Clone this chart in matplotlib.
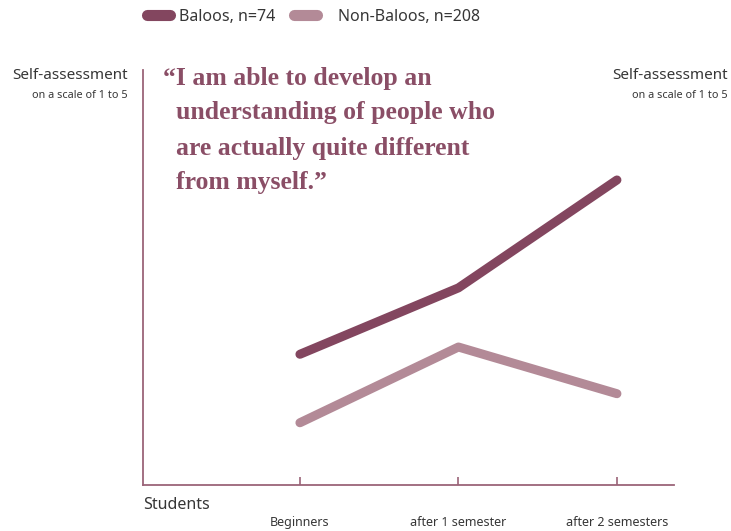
import matplotlib
matplotlib.use("Agg")
import matplotlib.pyplot as plt

# Data
stages = ["Beginners", "after 1 semester", "after 2 semesters"]
baloos = [3.63, 3.95, 4.47]
non_baloos = [3.30, 3.665, 3.44]
series_labels = ["Baloos, n=74", "Non-Baloos, n=208"]
title_lines = ["\u201cI am able to develop an",
               "understanding of people who",
               "are actually quite different",
               "from myself.\u201d"]

DARK = "#83465F"
LIGHT = "#B38A97"
AXIS = "#9B6478"
TEXT = "#363636"
SANS = ["Noto Sans", "DejaVu Sans"]
SERIF = ["Liberation Serif", "DejaVu Serif"]

W, H = 731, 531
fig = plt.figure(figsize=(W / 100, H / 100), dpi=100)

def fx(px):
    return px / W

def fy(py):
    return 1 - py / H

ax = fig.add_axes([fx(143), fy(485), fx(674) - fx(143), fy(70) - fy(485)])

x = list(range(len(stages)))
l1, = ax.plot(x, baloos, color=DARK, lw=6.5, solid_capstyle="round",
              solid_joinstyle="round", label=series_labels[0])
l2, = ax.plot(x, non_baloos, color=LIGHT, lw=6.5, solid_capstyle="round",
              solid_joinstyle="round", label=series_labels[1])

ax.set_xlim(-0.99, 2.36)
ax.set_ylim(3.0, 5.0)

for s in ["top", "right"]:
    ax.spines[s].set_visible(False)
for s in ["left", "bottom"]:
    ax.spines[s].set_color(AXIS)
    ax.spines[s].set_linewidth(1.3)

ax.set_yticks([])
ax.set_xticks(x)
ax.set_xticklabels(stages, fontsize=9, color=TEXT, family=SANS)
ax.tick_params(axis="x", direction="in", length=6, width=1.2, color=AXIS, pad=22)

# Legend: one entry per series, placed side by side
legend_specs = [(l1, 147, 0.55), (l2, 294, 1.3)]
for handle, xpx, pad in legend_specs:
    leg = fig.legend(handles=[handle], loc="center left",
                     bbox_to_anchor=(fx(xpx), fy(17)), frameon=False,
                     handlelength=1.45, handletextpad=pad, borderpad=0,
                     borderaxespad=0,
                     prop={"family": SANS, "size": 11.5})
    for t in leg.get_texts():
        t.set_color(TEXT)
    for h in leg.legend_handles:
        h.set_linewidth(8)
        h.set_solid_capstyle("round")

# Axis captions
for xr in (128, 728):
    fig.text(fx(xr), fy(76), "Self-assessment", ha="right", va="center",
             fontsize=11, color=TEXT, family=SANS)
    fig.text(fx(xr), fy(96), "on a scale of 1 to 5", ha="right", va="center",
             fontsize=7.8, color=TEXT, family=SANS)
fig.text(fx(143), fy(505), "Students", ha="left", va="center",
         fontsize=11.5, color=TEXT, family=SANS)

# Quote title with hanging opening quote
line_y = [78, 113, 149, 183]
fig.text(fx(163), fy(line_y[0]), title_lines[0], ha="left", va="center",
         fontsize=18.5, fontweight="bold", color="#8A4E66", family=SERIF)
for ln, yy in zip(title_lines[1:], line_y[1:]):
    fig.text(fx(176), fy(yy), ln, ha="left", va="center",
             fontsize=18.5, fontweight="bold", color="#8A4E66", family=SERIF)

fig.savefig("out.png", dpi=100)
